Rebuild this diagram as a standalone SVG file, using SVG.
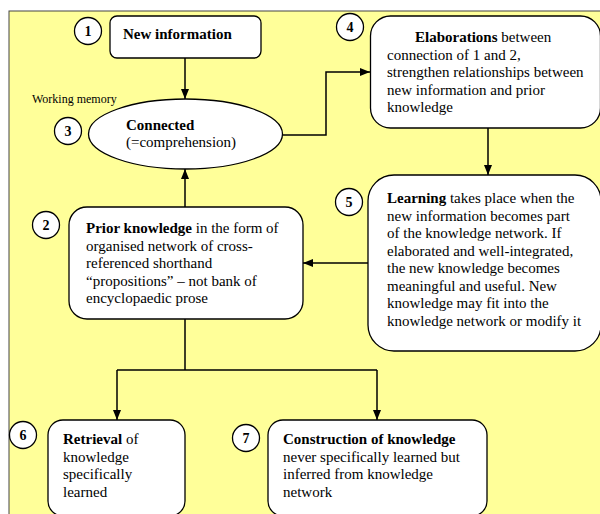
<svg xmlns="http://www.w3.org/2000/svg" width="600" height="514" viewBox="0 0 600 514">
<defs>
<style>
.t{font-size:15px;}
.b{font-weight:bold;}
.num{font-size:14px;font-weight:bold;text-anchor:middle;}
.box{fill:#fff;stroke:#000;stroke-width:1.3;}
.circ{fill:#fff;stroke:#000;stroke-width:1.3;}
.con{fill:none;stroke:#000;stroke-width:1.5;}
</style>
<marker id="ah" markerUnits="userSpaceOnUse" markerWidth="10" markerHeight="10" viewBox="0 0 10 10" refX="10" refY="5" orient="auto">
<path d="M0,1 L10,5 L0,9 Z" fill="#000"/>
</marker>
</defs>
<g font-family="Liberation Serif, Times New Roman, DejaVu Serif, serif" fill="#000">
<rect x="0" y="0" width="600" height="514" fill="#fff"/>
<rect x="9" y="11" width="600" height="515" fill="#FFFF99" stroke="#444" stroke-width="1"/>
<text x="32" y="103" font-size="12">Working memory</text>
<g id="connectors">
<path class="con" d="M185,58 V99" marker-end="url(#ah)"/>
<path class="con" d="M283,135 H326 V72 H370" marker-end="url(#ah)"/>
<path class="con" d="M488,128 V175" marker-end="url(#ah)"/>
<path class="con" d="M368,263 H303" marker-end="url(#ah)"/>
<path class="con" d="M185,207 V169" marker-end="url(#ah)"/>
<path class="con" d="M185,319 V370 M117,370 H377"/>
<path class="con" d="M117,370 V420" marker-end="url(#ah)"/>
<path class="con" d="M377,370 V420" marker-end="url(#ah)"/>
</g>
<g id="n1">
<rect class="box" x="110" y="16" width="151" height="42" rx="7"/>
<circle class="circ" cx="88" cy="31" r="13.5"/>
<text class="num" x="88" y="36">1</text>
<text class="t b" x="123" y="39">New information</text>
</g>
<g id="n3">
<ellipse class="box" cx="185.5" cy="134" rx="97" ry="35"/>
<circle class="circ" cx="68" cy="131" r="13.5"/>
<text class="num" x="68" y="136">3</text>
<text class="t b" x="126" y="130">Connected</text>
<text class="t" x="126" y="147">(=comprehension)</text>
</g>
<g id="n4">
<rect class="box" x="370.5" y="16" width="230" height="112" rx="20"/>
<circle class="circ" cx="350" cy="27" r="13.5"/>
<text class="num" x="350" y="32">4</text>
<text class="t" x="415" y="42"><tspan class="b">Elaborations</tspan> between</text>
<text class="t" x="387" y="59.5">connection of 1 and 2,</text>
<text class="t" x="387" y="77">strengthen relationships between</text>
<text class="t" x="387" y="94.5">new information and prior</text>
<text class="t" x="387" y="112">knowledge</text>
</g>
<g id="n5">
<rect class="box" x="368" y="175" width="233" height="176" rx="26"/>
<circle class="circ" cx="349" cy="202" r="13.5"/>
<text class="num" x="349" y="207">5</text>
<text class="t" x="387" y="203"><tspan class="b">Learning</tspan> takes place when the</text>
<text class="t" x="387" y="220.5">new information becomes part</text>
<text class="t" x="387" y="238">of the knowledge network. If</text>
<text class="t" x="387" y="255.5">elaborated and well-integrated,</text>
<text class="t" x="387" y="273">the new knowledge becomes</text>
<text class="t" x="387" y="290.5">meaningful and useful. New</text>
<text class="t" x="387" y="308">knowledge may fit into the</text>
<text class="t" x="387" y="325.5">knowledge network or modify it</text>
</g>
<g id="n2">
<rect class="box" x="69" y="207" width="234" height="112" rx="18"/>
<circle class="circ" cx="46" cy="225" r="13.5"/>
<text class="num" x="46" y="230">2</text>
<text class="t" x="86" y="233"><tspan class="b">Prior knowledge</tspan> in the form of</text>
<text class="t" x="86" y="250.5">organised network of cross-</text>
<text class="t" x="86" y="268">referenced shorthand</text>
<text class="t" x="86" y="285.5">“propositions” – not bank of</text>
<text class="t" x="86" y="303">encyclopaedic prose</text>
</g>
<g id="n6">
<rect class="box" x="48" y="420" width="137" height="96" rx="15"/>
<circle class="circ" cx="23" cy="435" r="13.5"/>
<text class="num" x="23" y="440">6</text>
<text class="t" x="63" y="444"><tspan class="b">Retrieval</tspan> of</text>
<text class="t" x="63" y="461.5">knowledge</text>
<text class="t" x="63" y="479">specifically</text>
<text class="t" x="63" y="496.5">learned</text>
</g>
<g id="n7">
<rect class="box" x="268" y="420" width="219" height="96" rx="15"/>
<circle class="circ" cx="246" cy="438" r="13.5"/>
<text class="num" x="246" y="443">7</text>
<text class="t b" x="283" y="444">Construction of knowledge</text>
<text class="t" x="283" y="461.5">never specifically learned but</text>
<text class="t" x="283" y="479">inferred from knowledge</text>
<text class="t" x="283" y="496.5">network</text>
</g>
</g>
</svg>
